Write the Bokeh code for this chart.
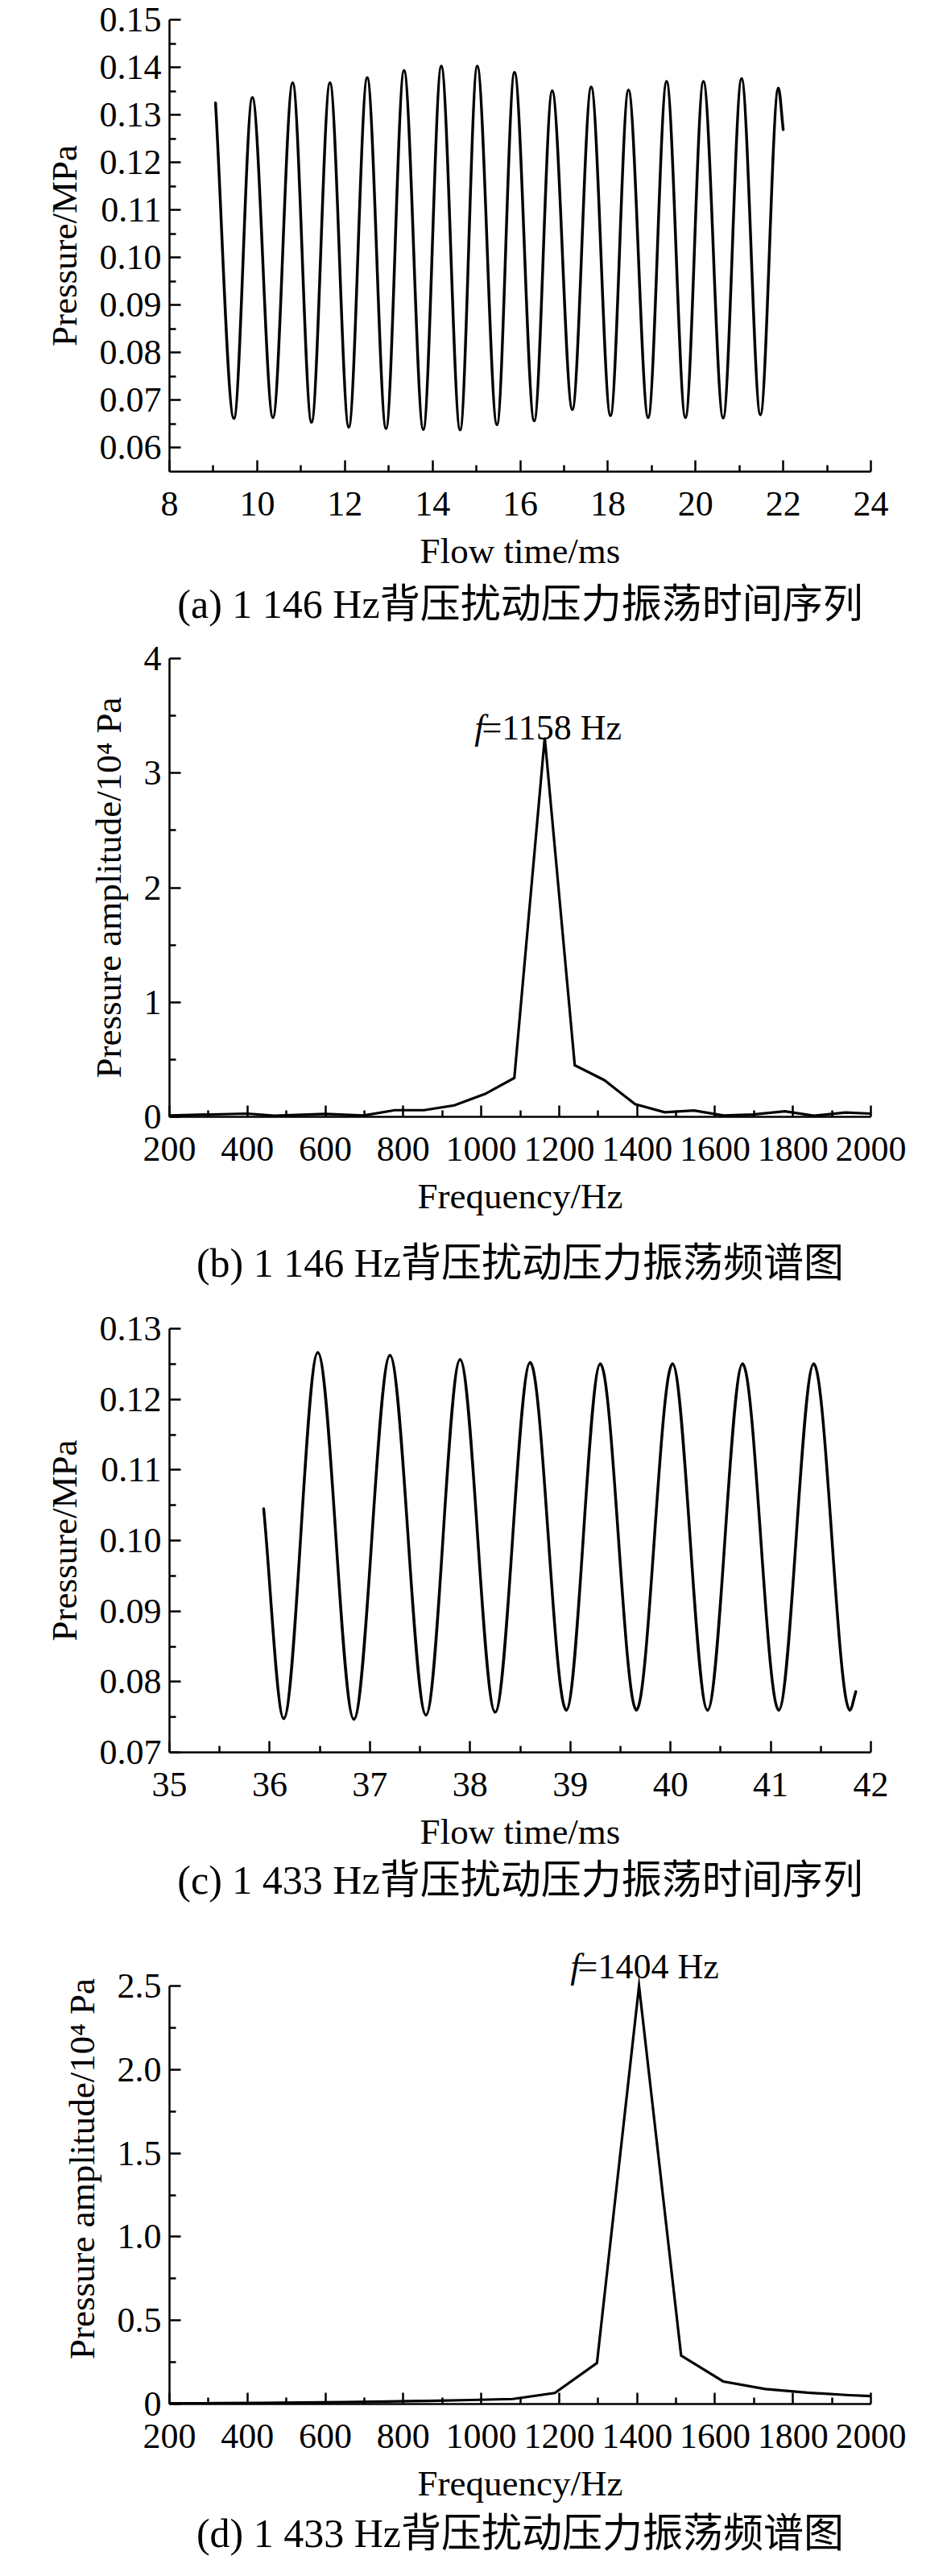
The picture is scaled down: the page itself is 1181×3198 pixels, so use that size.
from bokeh.plotting import figure
from bokeh.layouts import column
from bokeh.models import FixedTicker, Label, Title
from bokeh.embed import file_html
from bokeh.resources import INLINE

# (a) 1 146 Hz time series: start, alternating minima / maxima, end
time_a = [9.05, 9.47, 9.89, 10.36, 10.81, 11.24, 11.66, 12.09, 12.51, 12.94, 13.35,
          13.79, 14.20, 14.63, 15.02, 15.47, 15.87, 16.32, 16.73, 17.19, 17.62, 18.06,
          18.47, 18.92, 19.34, 19.77, 20.18, 20.63, 21.05, 21.48, 21.89, 22.00]
pres_a = [0.1325, 0.0662, 0.1336, 0.0664, 0.1367, 0.0654, 0.1367, 0.0644, 0.1378, 0.0641,
          0.1393, 0.0639, 0.1402, 0.0638, 0.1402, 0.0649, 0.1389, 0.0657, 0.1350, 0.0681,
          0.1358, 0.0668, 0.1352, 0.0664, 0.1370, 0.0664, 0.1370, 0.0663, 0.1376, 0.0670,
          0.1356, 0.1269]

# (b) 1 146 Hz spectrum
freq_b = [200, 400, 469, 600, 698, 778, 853, 931, 1010, 1085, 1163, 1240, 1316, 1395,
          1471, 1546, 1622, 1697, 1779, 1854, 1935, 2000]
amp_b = [0.012, 0.028, 0.010, 0.026, 0.012, 0.058, 0.058, 0.10, 0.20, 0.34, 3.31, 0.45,
         0.32, 0.11, 0.04, 0.055, 0.012, 0.02, 0.048, 0.010, 0.038, 0.028]

# (c) 1 433 Hz time series
time_c = [35.94, 36.14, 36.48, 36.84, 37.20, 37.56, 37.90, 38.25, 38.60, 38.96, 39.30,
          39.66, 40.02, 40.37, 40.72, 41.08, 41.43, 41.79, 41.85]
pres_c = [0.1045, 0.0748, 0.1266, 0.0747, 0.1262, 0.0753, 0.1256, 0.0757, 0.1252, 0.0760,
          0.1250, 0.0760, 0.1250, 0.0760, 0.1250, 0.0760, 0.1250, 0.0760, 0.0786]

# (d) 1 433 Hz spectrum
freq_d = [200, 325, 433, 541, 649, 757, 865, 973, 1081, 1189, 1297, 1405, 1513, 1621,
          1729, 1837, 1945, 2000]
amp_d = [0.004, 0.005, 0.007, 0.009, 0.012, 0.015, 0.019, 0.024, 0.03, 0.066, 0.245, 2.5,
         0.29, 0.135, 0.09, 0.068, 0.053, 0.048]

# ticks
xt_a = [8, 10, 12, 14, 16, 18, 20, 22, 24]
xm_a = [9, 11, 13, 15, 17, 19, 21, 23]
yt_a = [0.06, 0.07, 0.08, 0.09, 0.10, 0.11, 0.12, 0.13, 0.14, 0.15]
yl_a = ["0.06", "0.07", "0.08", "0.09", "0.10", "0.11", "0.12", "0.13", "0.14", "0.15"]
ym_a = [0.065, 0.075, 0.085, 0.095, 0.105, 0.115, 0.125, 0.135, 0.145]

xt_f = [200, 400, 600, 800, 1000, 1200, 1400, 1600, 1800, 2000]
xm_f = [300, 500, 700, 900, 1100, 1300, 1500, 1700, 1900]
yt_b = [0, 1, 2, 3, 4]
ym_b = [0.5, 1.5, 2.5, 3.5]

xt_c = [35, 36, 37, 38, 39, 40, 41, 42]
xm_c = [35.5, 36.5, 37.5, 38.5, 39.5, 40.5, 41.5]
yt_c = [0.07, 0.08, 0.09, 0.10, 0.11, 0.12, 0.13]
yl_c = ["0.07", "0.08", "0.09", "0.10", "0.11", "0.12", "0.13"]
ym_c = [0.075, 0.085, 0.095, 0.105, 0.115, 0.125]

yt_d = [0, 0.5, 1.0, 1.5, 2.0, 2.5]
yl_d = ["0", "0.5", "1.0", "1.5", "2.0", "2.5"]
ym_d = [0.25, 0.75, 1.25, 1.75, 2.25]

SERIF = "Liberation Serif"
CAP_FONT = "'Liberation Serif', 'Noto Sans CJK SC'"


def style_axis(ax, ticks, minor, labels=None):
    ax.ticker = FixedTicker(ticks=ticks, minor_ticks=minor)
    if labels:
        ax.major_label_overrides = {v: s for v, s in zip(ticks, labels)}
    ax.axis_line_width = 2.5
    ax.major_tick_line_width = 2.5
    ax.minor_tick_line_width = 2.5
    ax.major_tick_in = 14
    ax.major_tick_out = 0
    ax.minor_tick_in = 8
    ax.minor_tick_out = 0
    ax.major_label_text_font = SERIF
    ax.major_label_text_font_size = "44px"
    ax.major_label_text_color = "black"
    ax.axis_label_text_font = SERIF
    ax.axis_label_text_font_size = "45px"
    ax.axis_label_text_font_style = "normal"
    ax.axis_label_text_color = "black"


def panel(xr, yr, top, fh, bottom, xlab, ylab, cap, cap_gap):
    p = figure(frame_width=871, frame_height=fh, x_range=xr, y_range=yr, title=None,
               output_backend="svg", toolbar_location=None,
               min_border_left=210, min_border_right=84,
               min_border_top=top, min_border_bottom=bottom)
    p.outline_line_color = None
    p.grid.visible = False
    p.xaxis.axis_label = xlab
    p.yaxis.axis_label = ylab
    p.xaxis.major_label_standoff = 25
    p.yaxis.major_label_standoff = 10
    p.xaxis.axis_label_standoff = 16
    p.yaxis.axis_label_standoff = 16
    p.add_layout(Title(text=cap, align="center", vertical_align="top", text_font=CAP_FONT,
                       text_font_size="50px", text_font_style="normal",
                       text_color="black", standoff=cap_gap), "below")
    return p


def wave(p, t, v):
    # smooth segments between the read extrema
    n = len(t)
    x0, y0, x1, y1, cx0, cy0, cx1, cy1 = [], [], [], [], [], [], [], []
    for i in range(n - 1):
        dt = t[i + 1] - t[i]
        dv = v[i + 1] - v[i]
        x0.append(t[i]); y0.append(v[i]); x1.append(t[i + 1]); y1.append(v[i + 1])
        cx0.append(t[i] + dt / 3)
        cy0.append(v[i] + dv / 3 if i == 0 else v[i])
        cx1.append(t[i + 1] - dt / 3)
        cy1.append(v[i + 1] - dv / 3 if i + 1 == n - 1 else v[i + 1])
    p.bezier(x0=x0, y0=y0, x1=x1, y1=y1, cx0=cx0, cy0=cy0, cx1=cx1, cy1=cy1,
             line_color="black", line_width=3.5, line_cap="round")


def peak_label(p, fx, fy, text, dx, dy):
    # italic "f" followed by the upright rest; offsets in screen px (dy > 0 is up)
    p.add_layout(Label(x=fx, y=fy, text="f", text_font=SERIF, text_font_size="44px",
                       text_font_style="italic", text_align="right", text_color="black",
                       text_baseline="alphabetic", x_offset=dx + 3, y_offset=dy))
    p.add_layout(Label(x=fx, y=fy, text=text, text_font=SERIF, text_font_size="44px",
                       text_align="left", text_baseline="alphabetic", text_color="black",
                       x_offset=dx, y_offset=dy))


pa = panel((8, 24), (0.055, 0.15), 24, 561, 205, "Flow time/ms", "Pressure/MPa",
           "(a) 1 146 Hz背压扰动压力振荡时间序列", 20)
style_axis(pa.xaxis[0], xt_a, xm_a)
style_axis(pa.yaxis[0], yt_a, ym_a, yl_a)
wave(pa, time_a, pres_a)

pb = panel((200, 2000), (0, 4), 27, 569, 238, "Frequency/Hz", "Pressure amplitude/10\u2074 Pa",
           "(b) 1 146 Hz背压扰动压力振荡频谱图", 54)
style_axis(pb.xaxis[0], xt_f, xm_f)
style_axis(pb.yaxis[0], yt_b, ym_b)
pb.line(freq_b, amp_b, line_color="black", line_width=3.2, line_join="miter")
kb = amp_b.index(max(amp_b))
peak_label(pb, freq_b[kb], amp_b[kb], "=1158 Hz", -78, 12)

pc = panel((35, 42), (0.07, 0.13), 25, 526, 200, "Flow time/ms", "Pressure/MPa",
           "(c) 1 433 Hz背压扰动压力振荡时间序列", 8)
style_axis(pc.xaxis[0], xt_c, xm_c)
style_axis(pc.yaxis[0], yt_c, ym_c, yl_c)
wave(pc, time_c, pres_c)

# (d): frame runs 65 px above the 2.5 tick so the peak note sits inside it;
# the y axis itself stops at 2.5
fh_d, room_d = 519, 65
pd_ = panel((200, 2000), (0, 2.5 * (fh_d + room_d) / fh_d), 25, fh_d + room_d, 196,
            "Frequency/Hz", "Pressure amplitude/10\u2074 Pa",
            "(d) 1 433 Hz背压扰动压力振荡频谱图", 13)
style_axis(pd_.xaxis[0], xt_f, xm_f)
style_axis(pd_.yaxis[0], yt_d, ym_d, yl_d)
pd_.yaxis.bounds = (yt_d[0], yt_d[-1])
pd_.line(freq_d, amp_d, line_color="black", line_width=3.2, line_join="miter")
kd = amp_d.index(max(amp_d))
peak_label(pd_, freq_d[kd], amp_d[kd], "=1404 Hz", -76, 24)

layout = column(pa, pb, pc, pd_, spacing=0)
open("out.html", "w").write(file_html(layout, INLINE, "Pressure oscillation"))
